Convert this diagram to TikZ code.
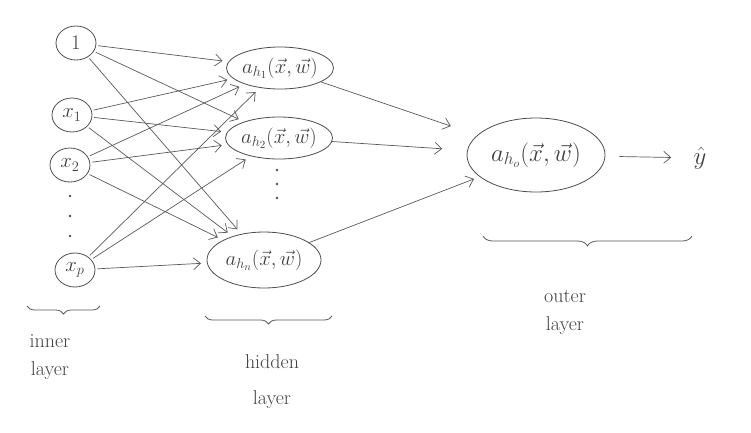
\documentclass[tikz,border=0pt]{standalone}
\usetikzlibrary{arrows.meta,decorations.pathreplacing,shapes.geometric}
\begin{document}
\begin{tikzpicture}[x=1pt,y=-1pt, line width=0.8pt,
 every node/.style={text=black!75},
 inp/.style={ellipse, draw=black!70, minimum width=40pt, minimum height=34pt, inner sep=0pt, font=\fontsize{21}{22}\selectfont},
 hid/.style={ellipse, draw=black!70, minimum width=104pt, minimum height=42pt, inner sep=0pt, font=\fontsize{22}{24}\selectfont},
 con/.style={-{Straight Barb[length=7pt,width=12pt]}, draw=black!65, line width=0.7pt},
 lab/.style={font=\fontsize{20}{28}\selectfont, align=center},
 brc/.style={decorate, draw=black!65, decoration={brace, mirror, amplitude=8pt}},
 dot/.style={circle, fill=black!70, inner sep=0pt, minimum size=2.6pt}]
\useasboundingbox (0,0) rectangle (751,432);
% input layer
\node[inp] (one) at (76,43) {$1$};
\node[inp] (x1) at (72,115) {$x_1$};
\node[inp] (x2) at (70,165) {$x_2$};
\node[inp] (xp) at (75,270) {$x_p$};
\node[dot] (di1) at (70,196) {};
\node[dot] (di2) at (70,216) {};
\node[dot] (di3) at (70,236) {};
% hidden layer
\node[hid] (h1) at (280,68) {$a_{h_1}(\vec{x},\vec{w})$};
\node[hid] (h2) at (279,138) {$a_{h_2}(\vec{x},\vec{w})$};
\node[dot] (dh1) at (277,170) {};
\node[dot] (dh2) at (277,184) {};
\node[dot] (dh3) at (277,198) {};
\node[hid, minimum width=114pt, minimum height=56pt] (hn) at (264,260) {$a_{h_n}(\vec{x},\vec{w})$};
% output layer
\node[hid, minimum width=138pt, minimum height=74pt, font=\fontsize{26}{28}\selectfont] (o) at (536,155) {$a_{h_o}(\vec{x},\vec{w})$};
\node[font=\fontsize{34}{36}\selectfont, inner sep=0pt] (yhat) at (700,158) {$\hat{y}$};
% connectors input -> hidden
\foreach \s in {one,x1,x2,xp}
  \foreach \t in {h1,h2,hn}
    \draw[con, shorten >=6pt, shorten <=2pt] (\s) -- (\t);
% hidden -> output
\draw[con, shorten >=28pt] (h1) -- (o);
\draw[con, shorten >=25pt] (h2) -- (o);
\draw[con, shorten >=6pt] (hn) -- (o);
\draw[con, shorten >=22pt, shorten <=14pt] (o) -- (yhat);
% braces
\coordinate (ib1) at (27,306); \coordinate (ib2) at (100,306);
\coordinate (hb1) at (205,316); \coordinate (hb2) at (332,316);
\coordinate (ob1) at (483,236); \coordinate (ob2) at (692,236);
\draw[brc] (ib1) -- (ib2);
\draw[brc] (hb1) -- (hb2);
\draw[brc, decoration={amplitude=10pt}] (ob1) -- (ob2);
% labels
\node[lab] (inl) at (50,357) {inner\\layer};
\node[lab, font=\fontsize{20}{36}\selectfont] (hil) at (272,382) {hidden\\layer};
\node[lab] (oul) at (565,312) {outer\\layer};
\end{tikzpicture}
\end{document}
